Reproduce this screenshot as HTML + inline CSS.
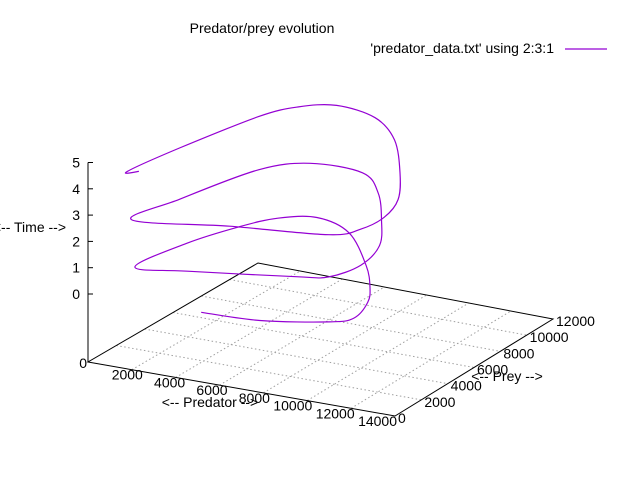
<!DOCTYPE html>
<html><head><meta charset="utf-8"><style>
body{margin:0;background:#fff}
svg{display:block;font-family:"Liberation Sans",sans-serif;font-size:14px}
</style></head><body>
<svg id="chart" width="640" height="480" viewBox="0 0 640 480">
<rect width="640" height="480" fill="#fff"/>
<text x="262" y="33" text-anchor="middle">Predator/prey evolution</text>
<text x="554" y="53" text-anchor="end">'predator_data.txt' using 2:3:1</text>
<line x1="565" y1="49" x2="607" y2="49" stroke="#9400d3" stroke-width="1.2"/>
<g id="grid"></g><g id="axes"></g><g id="labels"></g><g id="series"></g>
<text x="210" y="407" text-anchor="middle">&lt;-- Predator --&gt;</text>
<text x="507" y="381" text-anchor="middle">&lt;-- Prey --&gt;</text>
<text x="66" y="232" text-anchor="end">&lt;-- Time --&gt;</text>
</svg>
<script>
const time=[0,0.1,0.2,0.3,0.4,0.5,0.6,0.75,0.85,0.92,0.98,1.04,1.1,1.3,1.5,1.6,1.75,1.9,2.05,2.2,2.35,2.55,2.68,2.82,2.9,3.1,3.3,3.45,3.6,3.75,3.9,4.05,4.2,4.35,4.45,4.52,4.62,4.7,4.71];
const predator=[5067,7778,10462,11265,10991,10354,9085,6745,4839,3599,2824,2064,1765,4259,8646,9964,10645,10389,9169,7680,6156,4025,2780,1979,1671,5797,10120,11157,11519,11205,9929,8009,6219,4330,3195,2492,1746,1441,1864];
const prey=[150,102,889,1409,2894,4092,5844,8266,8886,7982,6358,3794,586,608,1371,1659,2934,4744,6842,8937,10164,9653,7839,3430,519,1049,1418,2140,3277,4820,7007,9626,10985,11087,10019,8284,3792,523,715];
const xTicks=[0,2000,4000,6000,8000,10000,12000,14000];
const yTicks=[0,2000,4000,6000,8000,10000,12000];
const zTicks=[0,1,2,3,4,5];
const XMAX=14000,YMAX=12000;
const O=[88,362],X=[395,416],Y=[258,263],XY=[553,319];
const Z0=68,ZS=26.3;
function base(x,y){const a=x/XMAX,b=y/YMAX;
 return [O[0]*(1-a)*(1-b)+X[0]*a*(1-b)+Y[0]*(1-a)*b+XY[0]*a*b,
         O[1]*(1-a)*(1-b)+X[1]*a*(1-b)+Y[1]*(1-a)*b+XY[1]*a*b];}
function proj(x,y,z){const p=base(x,y);return [p[0],p[1]-Z0-ZS*z];}
const NS="http://www.w3.org/2000/svg";
function mk(t,attrs,parent){const e=document.createElementNS(NS,t);for(const k in attrs)e.setAttribute(k,attrs[k]);document.getElementById(parent).appendChild(e);return e;}
xTicks.forEach(v=>{if(v===0||v===XMAX)return;const a=base(v,0),b=base(v,YMAX);
 const l=mk('line',{x1:a[0],y1:a[1],x2:b[0],y2:b[1],stroke:'#a0a0a0','stroke-dasharray':'1.5,2.5','stroke-width':1},'grid');
 
 });
yTicks.forEach(v=>{if(v===0||v===YMAX)return;const a=base(0,v),b=base(XMAX,v);
 const l=mk('line',{x1:a[0],y1:a[1],x2:b[0],y2:b[1],stroke:'#a0a0a0','stroke-dasharray':'1.5,2.5','stroke-width':1},'grid');
 
 });
const bp=[base(0,0),base(XMAX,0),base(XMAX,YMAX),base(0,YMAX)];
const border=mk('polygon',{points:bp.map(p=>p.join(',')).join(' '),fill:'none',stroke:'#000','stroke-width':1},'axes');


const zt=proj(0,0,zTicks[zTicks.length-1]);
const za=mk('line',{x1:O[0],y1:O[1],x2:O[0],y2:zt[1],stroke:'#000','stroke-width':1},'axes');


zTicks.forEach(v=>{const p=proj(0,0,v);
 const t=mk('line',{x1:O[0],y1:p[1],x2:O[0]+5,y2:p[1],stroke:'#000'},'axes');
 
 
 const l=mk('text',{x:O[0]-8,y:p[1]+5,'text-anchor':'end'},'labels');l.textContent=v;
 
 });
xTicks.forEach(v=>{const p=base(v,0);
 let attrs;
 if(v===0){attrs={x:p[0]-1,y:p[1]+6,'text-anchor':'end'};}
 else{attrs={x:p[0]+11-9*(v-2000)/12000,y:p[1]+10,'text-anchor':'end'};}
 const l=mk('text',attrs,'labels');l.textContent=v;
 
 });
yTicks.forEach(v=>{const p=base(XMAX,v);
 const l=mk('text',{x:p[0]+3,y:p[1]+7,'text-anchor':'start'},'labels');l.textContent=v;
 
 });
const pts=time.map((t,i)=>proj(predator[i],prey[i],t));
let d='M'+pts[0][0].toFixed(1)+','+pts[0][1].toFixed(1);
for(let i=0;i<pts.length-1;i++){
 const p0=pts[Math.max(0,i-1)],p1=pts[i],p2=pts[i+1],p3=pts[Math.min(pts.length-1,i+2)];
 const c1=[p1[0]+(p2[0]-p0[0])/6,p1[1]+(p2[1]-p0[1])/6];
 const c2=[p2[0]-(p3[0]-p1[0])/6,p2[1]-(p3[1]-p1[1])/6];
 d+=' C'+c1[0].toFixed(1)+','+c1[1].toFixed(1)+' '+c2[0].toFixed(1)+','+c2[1].toFixed(1)+' '+p2[0].toFixed(1)+','+p2[1].toFixed(1);
}
const path=mk('path',{d:d,fill:'none',stroke:'#9400d3','stroke-width':1.2,'stroke-linejoin':'round'},'series');


</script>
</body></html>
